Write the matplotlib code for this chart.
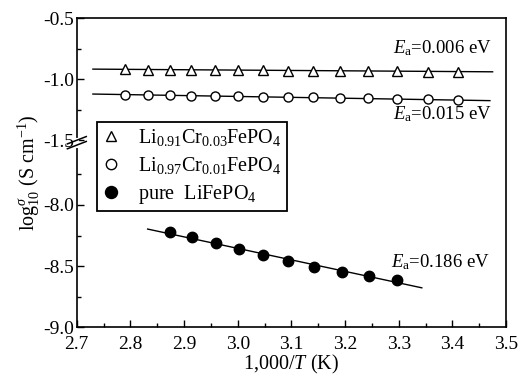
import numpy as np
import matplotlib
matplotlib.use("Agg")
import matplotlib.pyplot as plt

plt.rcParams['font.family'] = ['Liberation Serif', 'DejaVu Serif']
plt.rcParams['mathtext.fontset'] = 'custom'
plt.rcParams['mathtext.rm'] = 'Liberation Serif'
plt.rcParams['mathtext.it'] = 'Liberation Serif:italic'
plt.rcParams['mathtext.bf'] = 'Liberation Serif:bold'

# data
cr03_x = [2.79, 2.833, 2.873, 2.913, 2.957, 3.0, 3.047, 3.093, 3.14, 3.19, 3.243, 3.297, 3.355, 3.41]
cr03_y = [-0.921, -0.922, -0.924, -0.925, -0.926, -0.928, -0.929, -0.931, -0.932, -0.934, -0.935, -0.937, -0.939, -0.940]
cr01_x = [2.79, 2.833, 2.873, 2.913, 2.957, 3.0, 3.047, 3.093, 3.14, 3.19, 3.243, 3.297, 3.355, 3.41]
cr01_y = [-1.126, -1.129, -1.132, -1.135, -1.138, -1.141, -1.144, -1.147, -1.150, -1.153, -1.157, -1.160, -1.164, -1.168]
pure_x = [2.873, 2.914, 2.959, 3.002, 3.047, 3.094, 3.143, 3.194, 3.245, 3.297]
pure_y = [-8.22, -8.265, -8.313, -8.358, -8.41, -8.459, -8.504, -8.547, -8.582, -8.615]

# Arrhenius fits
cr03_fit_x = [2.73, 3.475]
cr03_fit_y = [-0.918, -0.940]
cr01_fit_x = [2.73, 3.47]
cr01_fit_y = [-1.122, -1.176]
pure_fit_x = [2.832, 3.343]
pure_fit_y = [-8.197, -8.678]

labels = [r"Li$_{0.91}$Cr$_{0.03}$FePO$_4$",
          r"Li$_{0.97}$Cr$_{0.01}$FePO$_4$",
          r"pure  LiFePO$_4$"]
ea_texts = [r"$E_{\rm a}$=0.006 eV", r"$E_{\rm a}$=0.015 eV", r"$E_{\rm a}$=0.186 eV"]

upper_ticks = [-0.5, -1.0, -1.5]
lower_ticks = [-8.0, -8.5, -9.0]
shift = 5.97  # lower block is drawn shifted up under the axis break


def low(v):
    return np.asarray(v) + shift


fig = plt.figure(figsize=(5.19, 3.84), dpi=100)
ax = fig.add_axes([0.148, 0.148, 0.827, 0.805])

ax.plot(cr03_fit_x, cr03_fit_y, color='black', lw=1.0)
ax.plot(cr01_fit_x, cr01_fit_y, color='black', lw=1.0)
ax.plot(pure_fit_x, low(pure_fit_y), color='black', lw=1.0)

h1, = ax.plot(cr03_x, cr03_y, ls='none', marker='^', ms=6.5, mfc='white', mec='black', mew=1.0)
h2, = ax.plot(cr01_x, cr01_y, ls='none', marker='o', ms=6.5, mfc='white', mec='black', mew=1.0)
h3, = ax.plot(pure_x, low(pure_y), ls='none', marker='o', ms=7.5, mfc='black', mec='black')

ax.text(3.474, -0.745, ea_texts[0], ha='right', va='center', fontsize=13.5)
ax.text(3.474, -1.29, ea_texts[1], ha='right', va='center', fontsize=13.5)
ax.text(3.47, -8.467 + shift, ea_texts[2], ha='right', va='center', fontsize=13.5)

ax.set_xlim(2.7, 3.5)
ax.set_ylim(-9.0 + shift, -0.5)
ax.set_xticks(np.arange(2.7, 3.51, 0.1))
ax.set_xticks(np.arange(2.75, 3.5, 0.1), minor=True)
ax.set_xticklabels(["%.1f" % t for t in np.arange(2.7, 3.51, 0.1)])

ypos = list(upper_ticks) + list(low(lower_ticks))
ax.set_yticks(ypos)
ax.set_yticklabels(["%.1f" % t for t in upper_ticks + lower_ticks])
ax.set_yticks([-0.75, -1.25, -7.75 + shift, -8.25 + shift, -8.75 + shift], minor=True)

ax.tick_params(which='both', direction='in', labelsize=14, top=False, right=False)
ax.tick_params(axis='y', pad=2)
ax.tick_params(axis='x', pad=6)
ax.tick_params(which='major', length=5, width=1.0)
ax.tick_params(which='minor', length=3, width=1.0)
for s in ax.spines.values():
    s.set_linewidth(1.2)

ax.set_xlabel(r"1,000/$T$ (K)", fontsize=14.5, labelpad=0)
ax.set_ylabel(r"log$_{10}^{\sigma}$ (S cm$^{-1}$)", fontsize=14.5, labelpad=1)

# axis break on the left spine
tr = ax.get_yaxis_transform()
yb = -1.52
ax.plot([0, 0], [yb - 0.025, yb + 0.025], color='white', lw=3, transform=tr, clip_on=False, zorder=5)
for d in (-0.02, 0.02):
    ax.plot([-0.022, 0.022], [yb + d - 0.03, yb + d + 0.03], color='black', lw=1.1,
            transform=tr, clip_on=False, zorder=6)

leg = ax.legend([h1, h2, h3], labels, loc='upper left', bbox_to_anchor=(0.047, 0.665),
                fontsize=14.5, frameon=True, fancybox=False, edgecolor='black',
                handlelength=0.9, handletextpad=0.9, borderpad=0.25, labelspacing=0.35,
                borderaxespad=0, markerscale=1.15)
leg.get_frame().set_linewidth(1.3)
leg.get_frame().set_alpha(1)

fig.savefig("out.png", dpi=100)
